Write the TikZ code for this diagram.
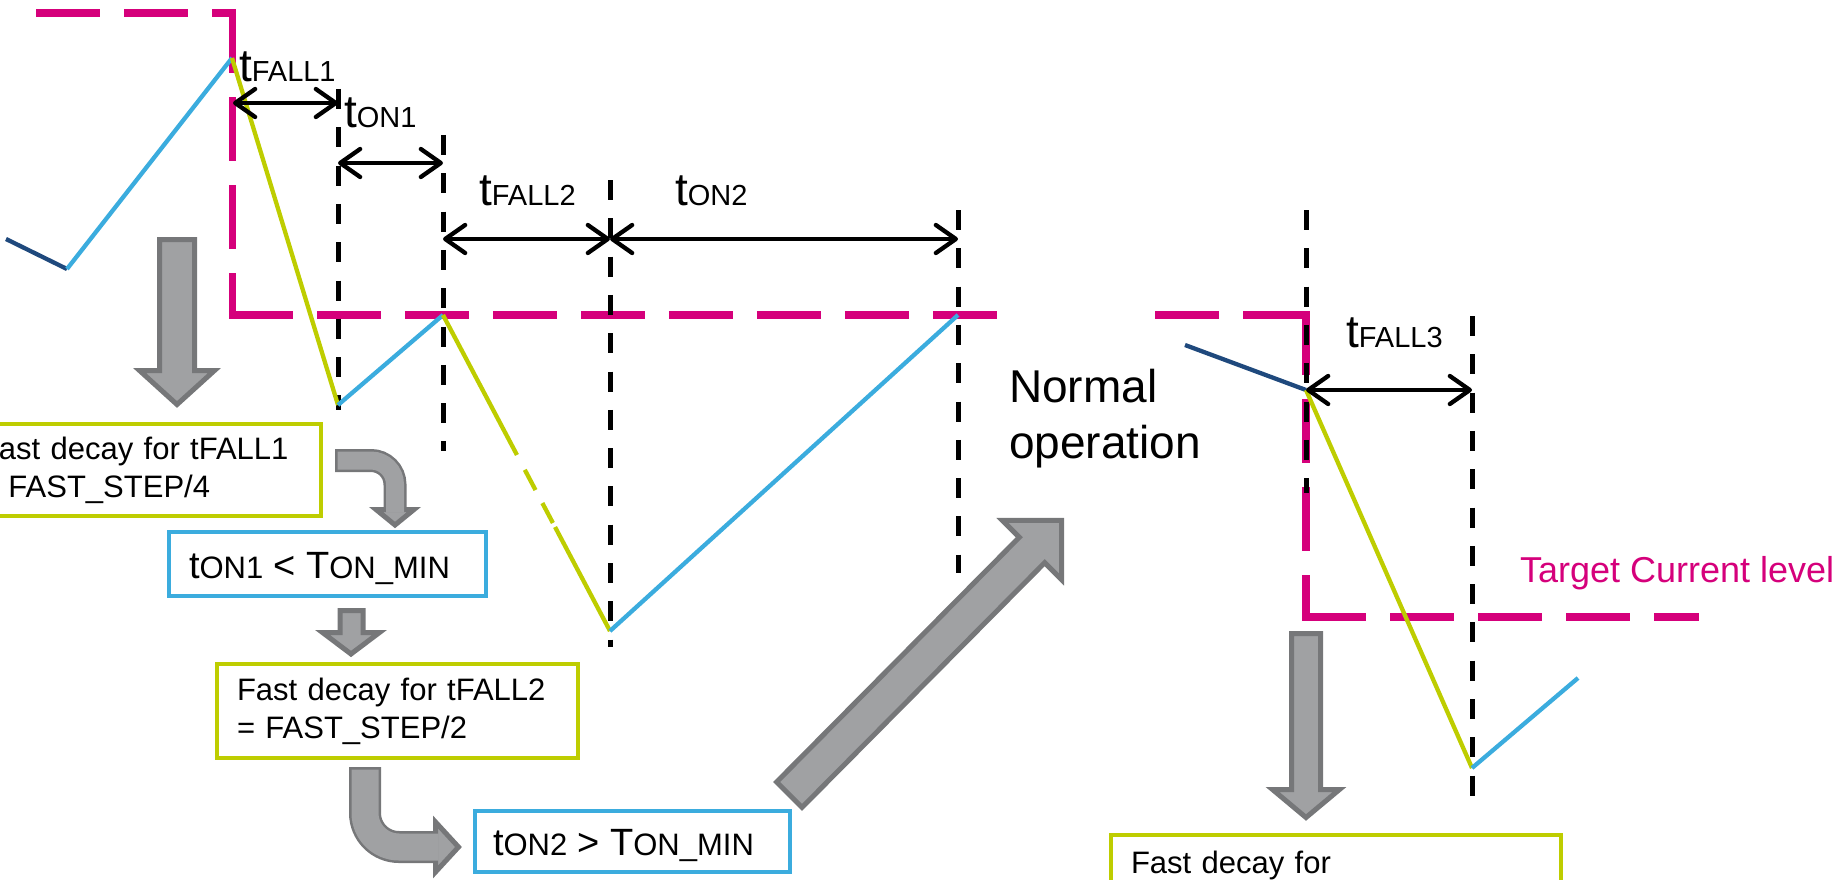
\documentclass[tikz,border=0pt]{standalone}
\usepackage{fontspec}
\setmainfont{Liberation Sans}
\usetikzlibrary{calc,arrows.meta}

\definecolor{target}{RGB}{213,0,123}
\definecolor{fallc}{RGB}{190,205,0}
\definecolor{onc}{RGB}{59,172,222}
\definecolor{prec}{RGB}{31,73,125}
\definecolor{arrowfill}{RGB}{160,161,163}
\definecolor{arrowedge}{RGB}{118,119,121}

% open chevron tip made of two straight strokes
\pgfdeclarearrow{
  name = Chevron,
  parameters = {\the\pgfarrowlength,\the\pgfarrowwidth},
  setup code = {
    \pgfarrowssettipend{.5\pgflinewidth}
    \pgfarrowssetlineend{0pt}
    \pgfarrowsupperhullpoint{-\pgfarrowlength}{.5\pgfarrowwidth}
    \pgfarrowshullpoint{.5\pgflinewidth}{0pt}
    \pgfarrowssavethe\pgfarrowlength
    \pgfarrowssavethe\pgfarrowwidth
  },
  drawing code = {
    \pgfsetdash{}{0pt}
    \pgfsetroundcap
    \pgfsetroundjoin
    \pgfpathmoveto{\pgfqpoint{-\pgfarrowlength}{.5\pgfarrowwidth}}
    \pgfpathlineto{\pgfpointorigin}
    \pgfpathlineto{\pgfqpoint{-\pgfarrowlength}{-.5\pgfarrowwidth}}
    \pgfusepathqstroke
  },
  defaults = {length = 20pt, width = 28pt}
}

\newcommand\tlab[1]{{\fontsize{46}{46}\selectfont t}{\fontsize{29}{29}\selectfont #1}}
\newcommand\lgT[1]{{\fontsize{38}{38}\selectfont #1}}

\begin{document}
\begin{tikzpicture}[x=1pt, y=-1pt,
  every node/.style={inner sep=0pt, outer sep=0pt},
  targetline/.style={draw=target, line width=7.5pt, dash pattern=on 64pt off 24pt},
  guide/.style={draw=black, line width=5pt, dash pattern=on 20pt off 18.3pt},
  span/.style={draw=black, line width=4.3pt, {Chevron}-{Chevron}},
  wave/.style={line width=4.3pt},
  falling/.style={wave, draw=fallc},
  rising/.style={wave, draw=onc},
  before/.style={wave, draw=prec},
  grayshape/.style={fill=arrowfill, draw=arrowedge, line width=5pt, line join=miter},
  stepbox/.style={draw, line width=4.5pt, align=left, inner xsep=20pt, inner ysep=0pt,
    font=\fontsize{31}{38}\selectfont},
  label/.style={anchor=base west}
]
\useasboundingbox (0,0) rectangle (1845,880);

% ---------- target current level (dashed step) ----------
\draw[targetline] (36,13) -- (236.25,13);
\draw[targetline] (232.5,9.25) -- (232.5,315);
\draw[targetline] (228.75,315) -- (1001,315);
\draw[targetline] (1155,315) -- (1306,315);
\draw[targetline] (1306,311.25) -- (1306,617);
\draw[targetline] (1302.25,617) -- (1699,617);

% ---------- timing guides ----------
\coordinate (g1t) at (338,89);   \coordinate (g1b) at (338,410);
\coordinate (g2t) at (443,135);  \coordinate (g2b) at (443,451);
\coordinate (g3t) at (610,180);  \coordinate (g3b) at (610,647);
\coordinate (g4t) at (958,210);  \coordinate (g4b) at (958,573);
\coordinate (g5t) at (1306,210); \coordinate (g5b) at (1306,493);
\coordinate (g6t) at (1472,316); \coordinate (g6b) at (1472,812);
\foreach \g in {1,...,6} { \draw[guide] (g\g t) -- (g\g b); }

% ---------- current waveform ----------
\coordinate (s0) at (6,239);
\coordinate (s1) at (67,269);
\coordinate (s2) at (232,58);
\coordinate (s3) at (338,405);
\coordinate (s4) at (443,315);
\coordinate (s5) at (610,631);
\coordinate (s6) at (958,315);
\coordinate (r0) at (1185,345);
\coordinate (r1) at (1306,390);
\coordinate (r2) at (1472,768);
\coordinate (r3) at (1578,678);

\draw[before] (s0) -- (s1);
\draw[rising] (s1) -- (s2);
\draw[falling] (s2) -- (s3);
\draw[rising] (s3) -- (s4);
\draw[falling, dash pattern=on 158.3pt off 16.8pt on 22.9pt off 14.7pt on 22.5pt off 4.6pt on 140pt] (s4) -- (s5);
\draw[rising] (s5) -- (s6);
\draw[before] (r0) -- (r1);
\draw[falling] (r1) -- (r2);
\draw[rising] (r2) -- (r3);

% ---------- interval spans ----------
\coordinate (a1l) at (233,103); \coordinate (a1r) at (338,103);
\coordinate (a2l) at (338,163); \coordinate (a2r) at (443,163);
\coordinate (a3l) at (443,239); \coordinate (a3r) at (610,239);
\coordinate (a4l) at (610,239); \coordinate (a4r) at (958,239);
\coordinate (a5l) at (1306,390); \coordinate (a5r) at (1472,390);
\draw[span] (a1l) -- (a1r);
\draw[span] (a2l) -- (a2r);
\draw[span] (a3l) -- (a3r);
\draw[span] (a4l) -- (a4r);
\draw[span] (a5l) -- (a5r);

\node[label] (lf1) at (239,82)   {\tlab{FALL1}};
\node[label] (lo1) at (344,128)  {\tlab{ON1}};
\node[label] (lf2) at (479,205)  {\tlab{FALL2}};
\node[label] (lo2) at (675,205)  {\tlab{ON2}};
\node[label] (lf3) at (1346,347) {\tlab{FALL3}};

% ---------- decision boxes ----------
\node[stepbox, draw=fallc, text width=321pt, minimum height=92pt] (b1) at (140.5,470)
  {Fast decay for tFALL1\\= FAST\_STEP/4};
\node[stepbox, draw=onc, anchor=north west, text width=277pt, text height=46pt, text depth=18pt] (b2) at (169,532)
  {\lgT{t}ON1 \lgT{<} \lgT{T}ON\_MIN};
\node[stepbox, draw=fallc, text width=321pt, minimum height=94pt] (b3) at (397.5,711)
  {Fast decay for tFALL2\\= FAST\_STEP/2};
\node[stepbox, draw=onc, anchor=north west, inner xsep=18pt, text width=279pt, text height=44pt, text depth=17pt] (b4) at (475,811)
  {\lgT{t}ON2 \lgT{>} \lgT{T}ON\_MIN};
\node[stepbox, draw=fallc, anchor=north west, text width=410pt, text height=38pt, text depth=60pt] (b5) at (1111,835)
  {Fast decay for};

\node[anchor=north west, align=left, font=\fontsize{46}{56}\selectfont] (norm) at (1009,369) {Normal\\operation};
\node[label, text=target, font=\fontsize{36}{36}\selectfont] (tcl) at (1520,582) {Target Current level};

% ---------- gray flow arrows ----------
% straight down arrow into the first box
\draw[grayshape] (159.5,239.5) -- (194.5,239.5) -- (194.5,370.5) -- (214.5,370.5) -- (177,404.5)
  -- (139.5,370.5) -- (159.5,370.5) -- cycle;
% straight down arrow into the last box
\draw[grayshape] (1291.5,633.5) -- (1320.5,633.5) -- (1320.5,789.5) -- (1339.5,789.5) -- (1306,817.5)
  -- (1272.5,789.5) -- (1291.5,789.5) -- cycle;
% short down arrow between the middle boxes
\draw[grayshape] (340,610.5) -- (363,610.5) -- (363,632.5) -- (379.5,632.5) -- (351,654)
  -- (322.5,632.5) -- (340,632.5) -- cycle;
% diagonal arrow towards normal operation
\draw[grayshape] (776.6,782) -- (1019.3,537.3) -- (1002.3,520.3) -- (1061.7,520.3) -- (1061.7,579.7)
  -- (1044.7,562.7) -- (802,807.4) -- cycle;

% bent arrow from the first box down to the tON1 test
\coordinate (e0) at (335,460.5);
\coordinate (e1) at (395,509.5);
\draw[arrowedge, line width=23pt, rounded corners=24pt] (e0) -| (e1);
\draw[grayshape] (376,509.5) -- (414,509.5) -- (395,525) -- cycle;
\draw[arrowfill, line width=18pt, rounded corners=24pt] ($(e0)+(2.5,0)$) -| ($(e1)+(0,3)$);

% bent arrow from the second box over to the tON2 test
\coordinate (f0) at (365,767);
\coordinate (f1) at (435.5,847);
\draw[arrowedge, line width=32pt, rounded corners=34pt] (f0) |- (f1);
\draw[grayshape] (435.5,822) -- (458.5,847) -- (435.5,872) -- cycle;
\draw[arrowfill, line width=27pt, rounded corners=34pt] ($(f0)+(0,2.5)$) |- ($(f1)+(3,0)$);

\end{tikzpicture}
\end{document}
